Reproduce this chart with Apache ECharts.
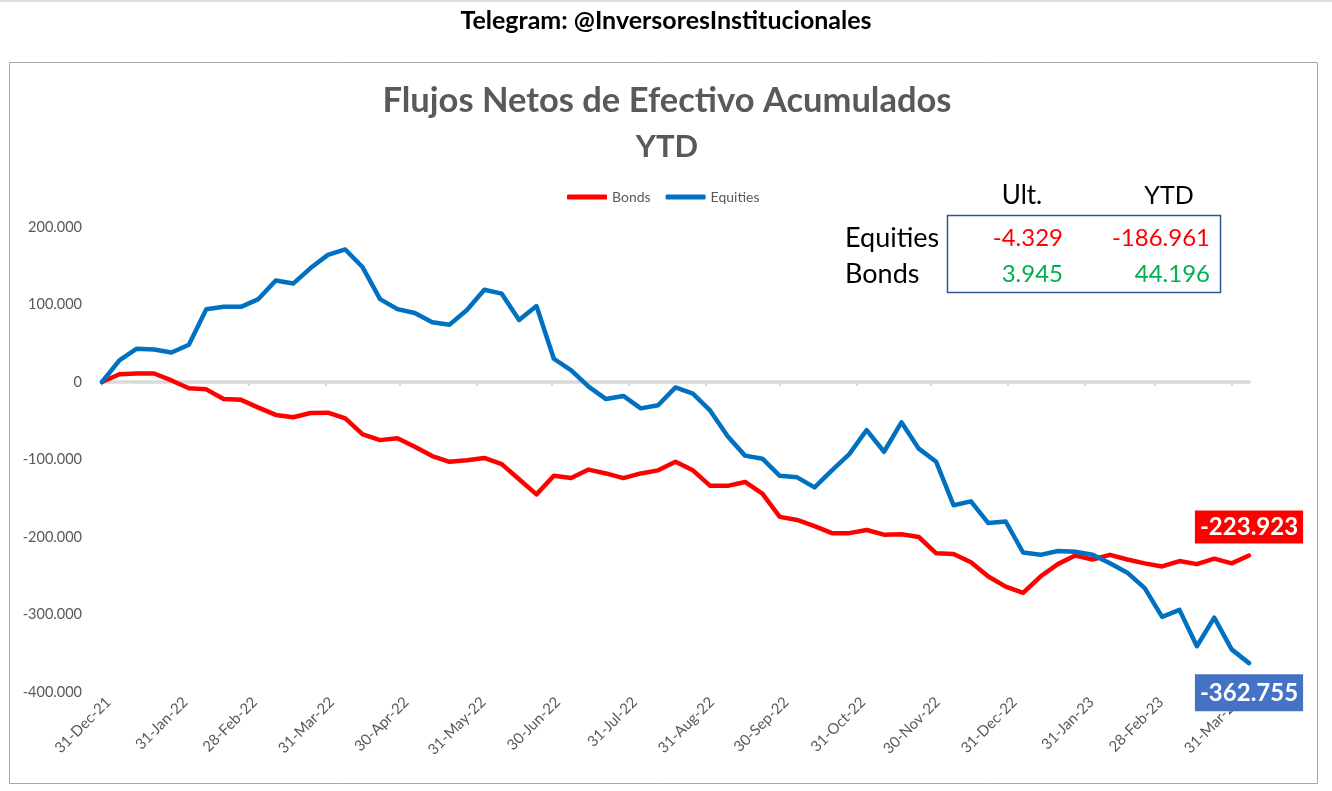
<!DOCTYPE html>
<html><head><meta charset="utf-8">
<script src="https://cdn.jsdelivr.net/npm/echarts@6/dist/echarts.min.js"></script>
<style>html,body{margin:0;padding:0;background:#fff}#main{width:1332px;height:791px}</style>
</head><body><div id="main"></div>
<script>
// ---------- data ----------
const startDate = '2021-12-31';
const endDate = '2023-04-07';
const weekStep = 7; // weekly observations (Fridays)
const monthEndLabels = ['31-Dec-21','31-Jan-22','28-Feb-22','31-Mar-22','30-Apr-22','31-May-22','30-Jun-22','31-Jul-22','31-Aug-22','30-Sep-22','31-Oct-22','30-Nov-22','31-Dec-22','31-Jan-23','28-Feb-23','31-Mar-23'];
const seriesNames = ['Bonds','Equities'];
const bonds = [0,10000,11000,11000,2000,-8000,-9500,-22000,-23000,-33000,-42500,-45500,-40000,-39600,-47000,-67500,-75000,-72600,-83500,-95500,-103000,-101000,-98000,-106000,-125500,-145000,-121000,-124000,-113000,-118000,-124000,-118000,-114000,-103000,-114000,-134000,-134000,-129000,-144000,-174000,-178000,-186000,-195000,-195000,-191000,-197000,-196500,-200000,-221000,-222000,-232600,-251000,-264000,-272000,-251000,-235000,-224000,-229000,-223000,-229000,-234000,-238000,-231000,-235000,-228000,-234000,-223923];
const equities = [0,28000,43000,42000,38000,48000,94000,97000,97000,107000,131000,127000,147000,164000,171000,148000,107000,94000,89000,77000,74000,93000,119000,114000,80000,98000,30000,15000,-6000,-22000,-18000,-34000,-30000,-7000,-15000,-37000,-70000,-95000,-99000,-121000,-123000,-136000,-114000,-93000,-62000,-90000,-52000,-86000,-103000,-159000,-154000,-182000,-180000,-220000,-223000,-218000,-219000,-223000,-234000,-246000,-266000,-303000,-294000,-341000,-304000,-345000,-362755];
const tableHeaders = ['Ult.','YTD'];
const tableRows = ['Equities','Bonds'];
const tableUlt = [-4329, 3945];
const tableYtd = [-186961, 44196];
const yMin = -400000, yMax = 200000, yStep = 100000;

// ---------- helpers ----------
const FONT = 'Lato, "Open Sans", sans-serif';
const MONTHS = ['Jan','Feb','Mar','Apr','May','Jun','Jul','Aug','Sep','Oct','Nov','Dec'];
function fmtDate(d){return String(d.getUTCDate()).padStart(2,'0')+'-'+MONTHS[d.getUTCMonth()]+'-'+String(d.getUTCFullYear()%100).padStart(2,'0');}
const days = [];
for (let t = Date.parse(startDate+'T00:00:00Z'); t <= Date.parse(endDate+'T00:00:00Z'); t += 86400000) days.push(fmtDate(new Date(t)));
const monthSet = new Set(monthEndLabels);
function fmtNum(v){const s=Math.abs(Math.round(v)).toString().replace(/\B(?=(\d{3})+(?!\d))/g,'.');return (v<0?'-':'')+s;}
function spread(vals, labelCfg){
  const arr = new Array(days.length).fill(null);
  vals.forEach((v,i)=>{arr[i*weekStep]=v;});
  const last = (vals.length-1)*weekStep;
  arr[last] = {value: vals[vals.length-1], label: labelCfg};
  return arr;
}
const showMonth = (idx, val) => monthSet.has(val);

const RED = '#ff0000', BLUE = '#0070c0', GREEN = '#00b050', GRAY = '#595959';

const chart = echarts.init(document.getElementById('main'), null, {renderer:'canvas'});

const graphic = [
  {type:'rect', z:-10, shape:{x:0,y:0,width:1332,height:2}, style:{fill:'#e0e0e0'}},
  {type:'rect', z:-10, shape:{x:9.5,y:62.5,width:1308,height:721}, style:{fill:'none',stroke:'#a6a6a6',lineWidth:1}},
  {type:'rect', shape:{x:947.5,y:215.5,width:273,height:77}, style:{fill:'none',stroke:'#2f5597',lineWidth:1.5}},
  {type:'text', style:{text:tableHeaders[0], x:1022, y:196, fill:'#000', font:'26px '+FONT, textAlign:'center', textVerticalAlign:'middle'}},
  {type:'text', style:{text:tableHeaders[1], x:1169, y:196, fill:'#000', font:'25px '+FONT, textAlign:'center', textVerticalAlign:'middle'}}
];
const rowY = [238, 274];
tableRows.forEach((r,i)=>{
  graphic.push({type:'text', style:{text:r, x:845, y:rowY[i], fill:'#000', font:'27px '+FONT, textAlign:'left', textVerticalAlign:'middle'}});
  graphic.push({type:'text', style:{text:fmtNum(tableUlt[i]), x:1063, y:rowY[i], fill: tableUlt[i]<0?RED:GREEN, font:'24px '+FONT, textAlign:'right', textVerticalAlign:'middle'}});
  graphic.push({type:'text', style:{text:fmtNum(tableYtd[i]), x:1210, y:rowY[i], fill: tableYtd[i]<0?RED:GREEN, font:'24px '+FONT, textAlign:'right', textVerticalAlign:'middle'}});
});

const endLabel = (bg, pos, dist, pad) => ({
  show:true, position:pos, distance:dist,
  formatter: p => fmtNum(p.value),
  color:'#fff', fontWeight:'bold', fontSize:24, fontFamily:FONT,
  backgroundColor:bg, padding:pad
});

const option = {
  animation:false,
  backgroundColor:'#fff',
  title:[
    {text:'Telegram: @InversoresInstitucionales', left:'center', top:1,
     textStyle:{fontSize:25, fontWeight:'bold', color:'#000', fontFamily:FONT, lineHeight:30}},
    {text:'Flujos Netos de Efectivo Acumulados', left:662, textAlign:'center', top:76,
     textStyle:{fontSize:34.5, fontWeight:'bold', color:GRAY, fontFamily:FONT, lineHeight:40}},
    {text:'YTD', left:662, textAlign:'center', top:122,
     textStyle:{fontSize:31, fontWeight:'bold', color:GRAY, fontFamily:FONT, lineHeight:40}}
  ],
  legend:{
    data:seriesNames, left:562, top:185, icon:'roundRect', itemWidth:40, itemHeight:5, itemGap:15,
    textStyle:{fontSize:14, color:GRAY, fontFamily:FONT}
  },
  graphic: graphic,
  grid:{left:102, right:83, top:227, bottom:99, outerBoundsMode:'none'},
  xAxis:[
    {type:'category', data:days, boundaryGap:false, position:'bottom',
     axisLine:{show:false, onZero:false}, axisTick:{show:false},
     axisLabel:{interval:showMonth, rotate:45, fontSize:15, color:GRAY, fontFamily:FONT, margin:14, padding:[0,-9,0,0]}},
    {type:'category', data:days, boundaryGap:false, position:'bottom',
     axisLine:{show:true, onZero:true, lineStyle:{color:'#d9d9d9', width:3.5}},
     axisTick:{show:true, interval:showMonth, length:4, lineStyle:{color:'#d9d9d9', width:2}},
     axisLabel:{show:false}, splitLine:{show:false}}
  ],
  yAxis:{type:'value', min:yMin, max:yMax, interval:yStep,
    axisLine:{show:false}, axisTick:{show:false}, splitLine:{show:false},
    axisLabel:{fontSize:14.5, color:GRAY, fontFamily:FONT, margin:20, formatter:v=>fmtNum(v)}},
  series:[
    {name:'Bonds', type:'line', xAxisIndex:0, data:spread(bonds, endLabel(RED,'top',12,[5,5,4,5])), connectNulls:true,
     showSymbol:true, symbol:'circle', symbolSize:0, color:RED, lineStyle:{color:RED, width:4.5, cap:'round', join:'round'}},
    {name:'Equities', type:'line', xAxisIndex:0, data:spread(equities, endLabel('#4472c4','bottom',11,[7,5,6,5])), connectNulls:true,
     showSymbol:true, symbol:'circle', symbolSize:0, color:BLUE, lineStyle:{color:BLUE, width:4.5, cap:'round', join:'round'}}
  ]
};
chart.setOption(option);
</script></body></html>
